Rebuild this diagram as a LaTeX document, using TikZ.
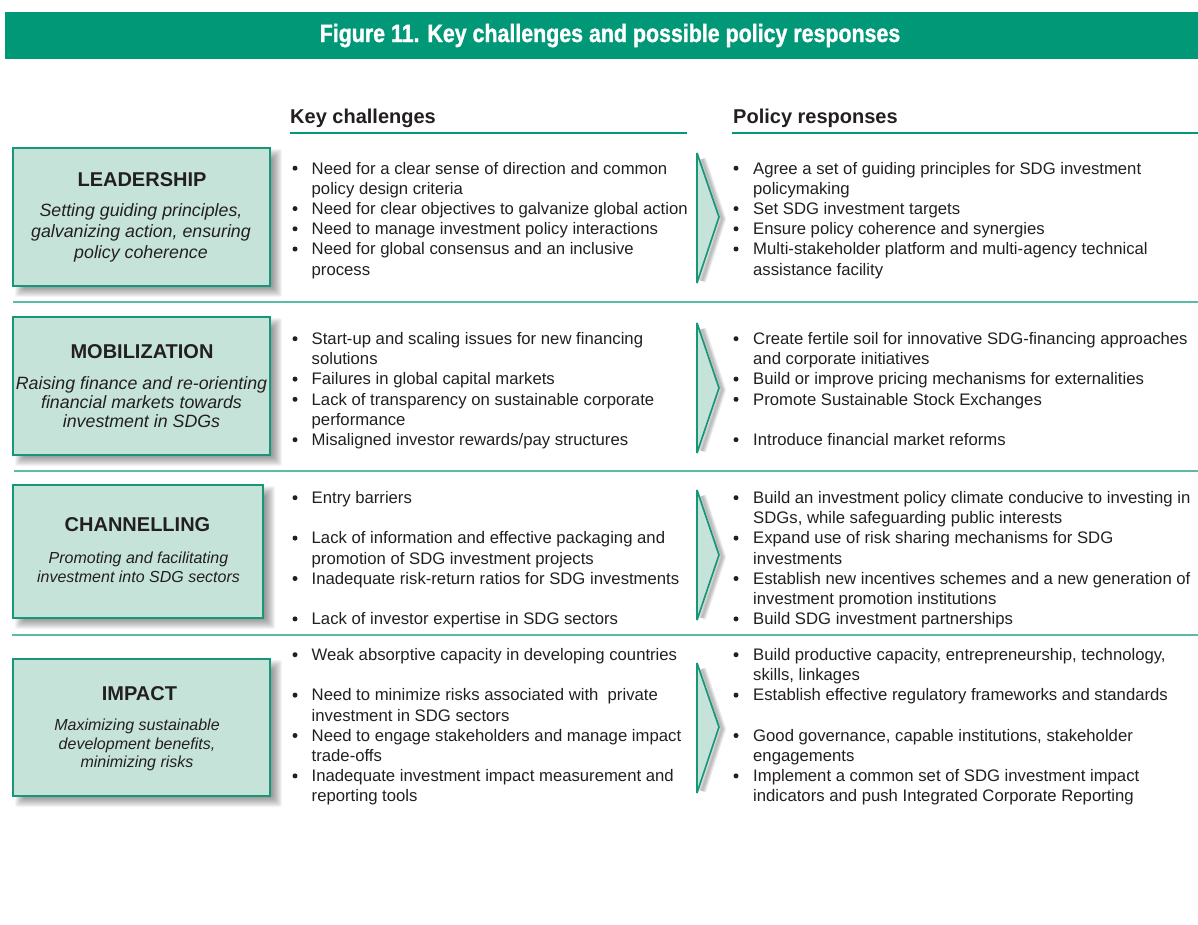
\documentclass[tikz,border=0pt]{standalone}
\usepackage{fontspec}
\setmainfont{Liberation Sans}
\newfontfamily\titlefont{Liberation Sans}[FakeStretch=0.855, FakeBold=1.2]

\definecolor{band}{HTML}{009877}
\definecolor{boxfill}{HTML}{C6E3DA}
\definecolor{boxline}{HTML}{17977A}
\definecolor{divline}{HTML}{5BBBA3}
\definecolor{ink}{HTML}{231F20}

% bullet and text lines of the two columns (y is the text baseline)
\newcommand\cbul[2]{\node[bul] (#1) at (295,{#2-5.8}) {};}
\newcommand\ctext[3]{\node[body] (#1) at (311.5,#2) {#3};}
\newcommand\pbul[2]{\node[bul] (#1) at (736,{#2-5.8}) {};}
\newcommand\ptext[3]{\node[body] (#1) at (753,#2) {#3};}

% soft drop shadow behind a pillar box given by its corners
\newcommand\pillarshadow[4]{%
  \foreach \e in {-5,...,5}
    \fill[black, opacity=0.045, rounded corners=2]
      ({#1+7-\e},{#2+6-\e}) rectangle ({#3+7+\e},{#4+6+\e});}

% soft shadow to the right of a chevron's slanted edges
\newcommand\chevshadow[3]{%
  \foreach \w in {8,6,4,2}
    \draw[black, opacity=0.07, line width=\w, line join=round]
      (702,{#1+6}) -- (722,{#2+2}) -- (702,{#3-2});}

\begin{document}
\begin{tikzpicture}[x=1pt,y=-1pt,
  body/.style={anchor=base west, inner sep=0pt, text=ink, font=\fontsize{16.7}{20}\selectfont},
  bul/.style={circle, fill=ink, inner sep=0pt, minimum size=5},
  colhead/.style={anchor=base west, inner sep=0pt, text=ink, font=\fontsize{20}{24}\selectfont\bfseries},
  boxtitle/.style={anchor=base, inner sep=0pt, text=ink, font=\fontsize{20}{24}\selectfont\bfseries},
  boxsub/.style={anchor=base, inner sep=0pt, text=ink, font=\fontsize{17.8}{21}\selectfont\itshape},
  boxsubs/.style={anchor=base, inner sep=0pt, text=ink, font=\fontsize{16}{19}\selectfont\itshape},
  pillar/.style={draw=boxline, line width=2pt, fill=boxfill, inner sep=0pt},
  chev/.style={draw=boxline, line width=1.7pt, fill=boxfill, line join=miter, miter limit=3},
  divider/.style={draw=divline, line width=2pt},
  uline/.style={draw=band, line width=2.2pt},
]
\useasboundingbox (0,0) rectangle (1198,924);
\fill[white] (0,0) rectangle (1198,924);

% title band
\fill[band] (5,12) rectangle (1198,59);
\node[anchor=base, inner sep=0pt, text=white,
  font=\fontsize{25}{30}\selectfont\titlefont\bfseries] (title) at (610,42)
  {Figure 11. Key challenges and possible policy responses};

% column heads
\node[colhead] (hchal) at (290,123) {Key challenges};
\node[colhead] (hpol) at (733,123) {Policy responses};
\coordinate (ua) at (290,133); \coordinate (ub) at (687,133);
\coordinate (uc) at (732,133); \coordinate (ud) at (1198,133);
\draw[uline] (ua) -- (ub);
\draw[uline] (uc) -- (ud);

% row separators
\coordinate (d1a) at (13,302); \coordinate (d1b) at (1198,302);
\coordinate (d2a) at (14,471); \coordinate (d2b) at (1198,471);
\coordinate (d3a) at (12,635); \coordinate (d3b) at (1198,635);
\draw[divider] (d1a) -- (d1b);
\draw[divider] (d2a) -- (d2b);
\draw[divider] (d3a) -- (d3b);

% pillar boxes
\pillarshadow{13}{148}{270}{286}
\node[pillar, minimum width=257, minimum height=138] (lead) at (141.5,217) {};
\node[boxtitle] (leadT) at (142,186) {LEADERSHIP};
\node[boxsub] (leadS1) at (141,216.5) {Setting guiding principles,};
\node[boxsub] (leadS2) at (141,237.5) {galvanizing action, ensuring};
\node[boxsub] (leadS3) at (141,258.5) {policy coherence};

\pillarshadow{13}{317}{270}{455}
\node[pillar, minimum width=257, minimum height=138] (mob) at (141.5,386) {};
\node[boxtitle] (mobT) at (142,358.5) {MOBILIZATION};
\node[boxsub] (mobS1) at (141.5,389) {Raising finance and re-orienting};
\node[boxsub] (mobS2) at (141.5,408) {financial markets towards};
\node[boxsub] (mobS3) at (141.5,427) {investment in SDGs};

\pillarshadow{13}{485}{263}{618}
\node[pillar, minimum width=250, minimum height=133] (chan) at (138,551.5) {};
\node[boxtitle] (chanT) at (137.5,531.5) {CHANNELLING};
\node[boxsubs] (chanS1) at (138.5,563.5) {Promoting and facilitating};
\node[boxsubs] (chanS2) at (138.5,582.5) {investment into SDG sectors};

\pillarshadow{13}{659}{270}{796}
\node[pillar, minimum width=257, minimum height=137] (imp) at (141.5,727.5) {};
\node[boxtitle] (impT) at (139.5,700.5) {IMPACT};
\node[boxsubs] (impS1) at (137,730) {Maximizing sustainable};
\node[boxsubs] (impS2) at (137,749) {development benefits,};
\node[boxsubs] (impS3) at (137,767.5) {minimizing risks};

% chevrons between the columns
\chevshadow{153}{217}{283}
\draw[chev] (697,153) -- (719,217) -- (697,283) -- cycle;
\chevshadow{323}{388}{453}
\draw[chev] (697,323) -- (719,388) -- (697,453) -- cycle;
\chevshadow{490}{555}{620}
\draw[chev] (697,490) -- (719,555) -- (697,620) -- cycle;
\chevshadow{663}{727}{793}
\draw[chev] (697,663) -- (719,727) -- (697,793) -- cycle;

% leadership
\cbul{lcb1}{174}   \ctext{lc1}{174}{Need for a clear sense of direction and common}
                   \ctext{lc1b}{194.2}{policy design criteria}
\cbul{lcb2}{214.4} \ctext{lc2}{214.4}{Need for clear objectives to galvanize global action}
\cbul{lcb3}{234.6} \ctext{lc3}{234.6}{Need to manage investment policy interactions}
\cbul{lcb4}{254.8} \ctext{lc4}{254.8}{Need for global consensus and an inclusive}
                   \ctext{lc4b}{275}{process}
\pbul{lpb1}{174}   \ptext{lp1}{174}{Agree a set of guiding principles for SDG investment}
                   \ptext{lp1b}{194.2}{policymaking}
\pbul{lpb2}{214.4} \ptext{lp2}{214.4}{Set SDG investment targets}
\pbul{lpb3}{234.6} \ptext{lp3}{234.6}{Ensure policy coherence and synergies}
\pbul{lpb4}{254.8} \ptext{lp4}{254.8}{Multi-stakeholder platform and multi-agency technical}
                   \ptext{lp4b}{275}{assistance facility}

% mobilization
\cbul{mcb1}{344.5} \ctext{mc1}{344.5}{Start-up and scaling issues for new financing}
                   \ctext{mc1b}{364.7}{solutions}
\cbul{mcb2}{384.9} \ctext{mc2}{384.9}{Failures in global capital markets}
\cbul{mcb3}{405.1} \ctext{mc3}{405.1}{Lack of transparency on sustainable corporate}
                   \ctext{mc3b}{425.3}{performance}
\cbul{mcb4}{445.5} \ctext{mc4}{445.5}{Misaligned investor rewards/pay structures}
\pbul{mpb1}{344.5} \ptext{mp1}{344.5}{Create fertile soil for innovative SDG-financing approaches}
                   \ptext{mp1b}{364.7}{and corporate initiatives}
\pbul{mpb2}{384.9} \ptext{mp2}{384.9}{Build or improve pricing mechanisms for externalities}
\pbul{mpb3}{405.1} \ptext{mp3}{405.1}{Promote Sustainable Stock Exchanges}
\pbul{mpb4}{445.5} \ptext{mp4}{445.5}{Introduce financial market reforms}

% channelling
\cbul{ccb1}{503.5} \ctext{cc1}{503.5}{Entry barriers}
\cbul{ccb2}{543.9} \ctext{cc2}{543.9}{Lack of information and effective packaging and}
                   \ctext{cc2b}{564.1}{promotion of SDG investment projects}
\cbul{ccb3}{584.3} \ctext{cc3}{584.3}{Inadequate risk-return ratios for SDG investments}
\cbul{ccb4}{624.7} \ctext{cc4}{624.7}{Lack of investor expertise in SDG sectors}
\pbul{cpb1}{503.5} \ptext{cp1}{503.5}{Build an investment policy climate conducive to investing in}
                   \ptext{cp1b}{523.7}{SDGs, while safeguarding public interests}
\pbul{cpb2}{543.9} \ptext{cp2}{543.9}{Expand use of risk sharing mechanisms for SDG}
                   \ptext{cp2b}{564.1}{investments}
\pbul{cpb3}{584.3} \ptext{cp3}{584.3}{Establish new incentives schemes and a new generation of}
                   \ptext{cp3b}{604.5}{investment promotion institutions}
\pbul{cpb4}{624.7} \ptext{cp4}{624.7}{Build SDG investment partnerships}

% impact
\cbul{icb1}{660.5} \ctext{ic1}{660.5}{Weak absorptive capacity in developing countries}
\cbul{icb2}{700.9} \ctext{ic2}{700.9}{Need to minimize risks associated with~ private}
                   \ctext{ic2b}{721.1}{investment in SDG sectors}
\cbul{icb3}{741.3} \ctext{ic3}{741.3}{Need to engage stakeholders and manage impact}
                   \ctext{ic3b}{761.5}{trade-offs}
\cbul{icb4}{781.7} \ctext{ic4}{781.7}{Inadequate investment impact measurement and}
                   \ctext{ic4b}{801.9}{reporting tools}
\pbul{ipb1}{660.5} \ptext{ip1}{660.5}{Build productive capacity, entrepreneurship, technology,}
                   \ptext{ip1b}{680.7}{skills, linkages}
\pbul{ipb2}{700.9} \ptext{ip2}{700.9}{Establish effective regulatory frameworks and standards}
\pbul{ipb3}{741.3} \ptext{ip3}{741.3}{Good governance, capable institutions, stakeholder}
                   \ptext{ip3b}{761.5}{engagements}
\pbul{ipb4}{781.7} \ptext{ip4}{781.7}{Implement a common set of SDG investment impact}
                   \ptext{ip4b}{801.9}{indicators and push Integrated Corporate Reporting}
\end{tikzpicture}
\end{document}
